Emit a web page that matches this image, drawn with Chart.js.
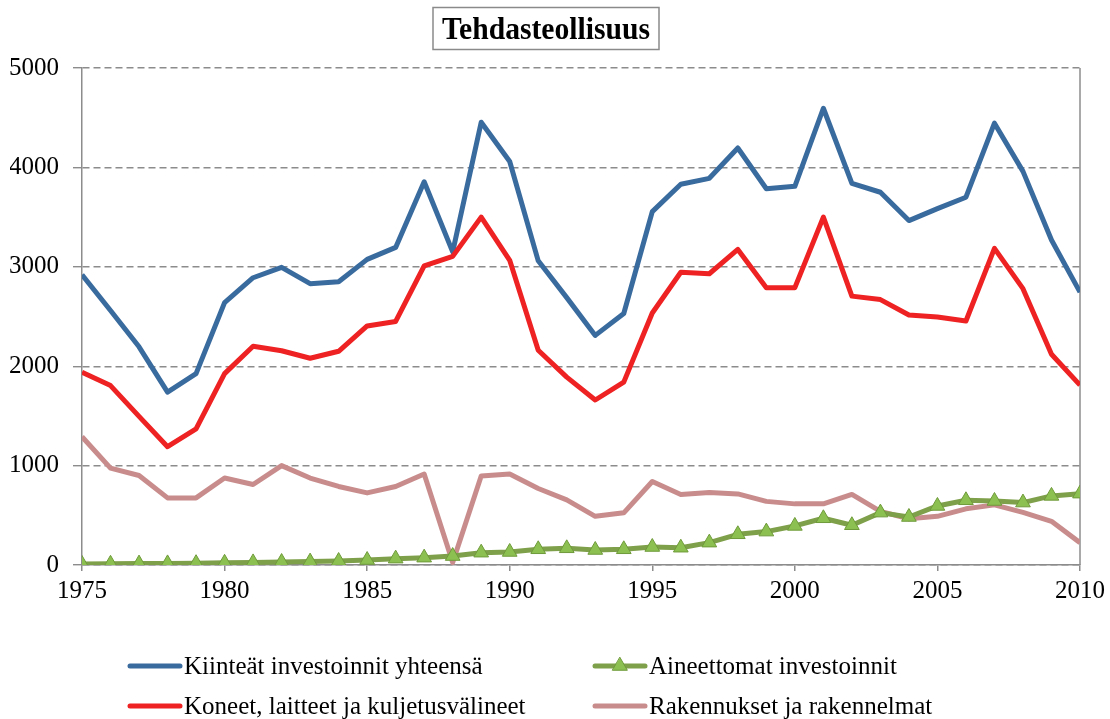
<!DOCTYPE html>
<html>
<head>
<meta charset="utf-8">
<script src="https://cdn.jsdelivr.net/npm/chart.js@4"></script>
<style>
  html, body { margin: 0; padding: 0; background: #ffffff; }
  #wrap { width: 1110px; height: 719px; }
</style>
</head>
<body>
<div id="wrap"><canvas id="c" width="1110" height="719"></canvas></div>
<script>
const chartTitle = "Tehdasteollisuus";
const years = [1975,1976,1977,1978,1979,1980,1981,1982,1983,1984,1985,1986,1987,1988,1989,1990,1991,1992,1993,1994,1995,1996,1997,1998,1999,2000,2001,2002,2003,2004,2005,2006,2007,2008,2009,2010];
const seriesLabels = ["Kiinteät investoinnit yhteensä", "Aineettomat investoinnit", "Koneet, laitteet ja kuljetusvälineet", "Rakennukset ja rakennelmat"];
const kiinteat = [2920,2560,2195,1740,1925,2640,2890,2995,2830,2850,3075,3195,3855,3150,4455,4060,3060,2690,2310,2530,3555,3830,3890,4195,3785,3810,4595,3840,3750,3465,3585,3700,4445,3960,3270,2745];
const aineettomat = [10,12,14,16,18,22,26,30,34,40,50,64,74,90,124,131,158,168,151,158,181,174,225,309,336,393,470,400,527,483,594,651,644,628,695,718];
const koneet = [1940,1805,1495,1190,1370,1925,2200,2155,2080,2150,2405,2450,3010,3105,3500,3065,2160,1890,1660,1840,2535,2945,2930,3175,2790,2790,3500,2705,2670,2515,2495,2455,3185,2780,2120,1810];
const rakennukset = [1290,975,900,675,675,875,810,1000,875,790,725,790,915,25,895,915,770,655,490,525,840,710,730,715,640,615,615,710,540,465,490,565,605,530,440,225];
const yTicks = [0,1000,2000,3000,4000,5000];
const xTickStep = 5;

const colors = ["#3A6B9E", "#7FA04A", "#EE2222", "#C98C8C"];
const markerFill = "#8CC152";
const markerBorder = "#6F9A3A";
const gridGray = "#8C8C8C";
const serif = "'Liberation Serif', 'Times New Roman', serif";

function pts(vals) { return years.map((y, i) => ({ x: y, y: vals[i] })); }

const seriesValues = [kiinteat, aineettomat, koneet, rakennukset];
const datasets = seriesValues.map((vals, i) => ({
  label: seriesLabels[i],
  data: pts(vals),
  borderColor: colors[i],
  backgroundColor: colors[i],
  borderWidth: 5,
  tension: 0,
  fill: false,
  pointRadius: i === 1 ? 8.5 : 0,
  pointHoverRadius: i === 1 ? 8.5 : 0,
  pointStyle: 'triangle',
  pointBackgroundColor: markerFill,
  pointBorderColor: markerBorder,
  pointBorderWidth: 1,
  borderJoinStyle: 'round',
  order: [3, 0, 2, 1][i]
}));

const titlePlugin = {
  id: 'boxTitle',
  afterDraw(chart) {
    const ctx = chart.ctx;
    ctx.save();
    ctx.font = "bold 31px " + serif;
    const w = ctx.measureText(chartTitle).width;
    const targetW = 208;
    const sx = targetW / w;
    const cx = 546, baseY = 39;
    ctx.strokeStyle = "#8A8A8A";
    ctx.lineWidth = 1.5;
    ctx.strokeRect(433, 7.5, 226, 42);
    ctx.translate(cx, baseY);
    ctx.scale(sx, 1);
    ctx.fillStyle = "#000";
    ctx.textAlign = "center";
    ctx.textBaseline = "alphabetic";
    ctx.fillText(chartTitle, 0, 0);
    ctx.restore();
  }
};

const framePlugin = {
  id: 'rightFrame',
  beforeDatasetsDraw(chart) {
    const a = chart.chartArea, ctx = chart.ctx;
    ctx.save();
    ctx.strokeStyle = gridGray;
    ctx.lineWidth = 1.5;
    ctx.beginPath();
    ctx.moveTo(a.right, a.top);
    ctx.lineTo(a.right, a.bottom);
    ctx.stroke();
    ctx.restore();
  }
};

const legendPlugin = {
  id: 'gridLegend',
  afterDraw(chart) {
    const ctx = chart.ctx;
    const cols = [128, 593];
    const rows = [666, 706];
    const lineLen = 54;
    const slots = [[0,0],[1,0],[0,1],[1,1]];
    ctx.save();
    ctx.font = "25px " + serif;
    ctx.textBaseline = "middle";
    chart.data.datasets.forEach((ds, i) => {
      const [c, r] = slots[i];
      const x = cols[c], y = rows[r];
      ctx.strokeStyle = ds.borderColor;
      ctx.lineWidth = 5;
      ctx.lineCap = "round";
      ctx.beginPath();
      ctx.moveTo(x + 2, y);
      ctx.lineTo(x + lineLen - 2, y);
      ctx.stroke();
      if (ds.pointRadius > 0) {
        const mx = x + lineLen / 2, r0 = 8.5;
        ctx.fillStyle = ds.pointBackgroundColor;
        ctx.strokeStyle = ds.pointBorderColor;
        ctx.lineWidth = 1;
        ctx.beginPath();
        for (let k = 0; k < 3; k++) {
          const ang = k * 2 * Math.PI / 3;
          const px = mx + Math.sin(ang) * r0, py = y - Math.cos(ang) * r0;
          if (k === 0) ctx.moveTo(px, py); else ctx.lineTo(px, py);
        }
        ctx.closePath();
        ctx.fill();
        ctx.stroke();
      }
      ctx.fillStyle = "#000";
      ctx.fillText(ds.label, x + lineLen + 2, y + 1);
    });
    ctx.restore();
  }
};

new Chart(document.getElementById('c'), {
  type: 'line',
  data: { datasets },
  options: {
    responsive: false,
    animation: false,
    devicePixelRatio: 1,
    layout: { padding: { left: 10, right: 30, top: 68, bottom: 114 } },
    plugins: { legend: { display: false }, title: { display: false }, tooltip: { enabled: false } },
    scales: {
      x: {
        type: 'linear',
        min: years[0],
        max: years[years.length - 1],
        afterFit(s) { s.height = 40; },
        afterBuildTicks(s) {
          const t = [];
          for (let v = years[0]; v <= years[years.length - 1]; v += xTickStep) t.push({ value: v });
          s.ticks = t;
        },
        ticks: {
          color: "#000",
          font: { family: serif, size: 25 },
          padding: 5,
          maxRotation: 0,
          callback: v => String(v)
        },
        grid: { drawOnChartArea: false, drawTicks: true, tickLength: 6, color: gridGray, lineWidth: 1.5 },
        border: { display: true, color: gridGray, width: 1.5 }
      },
      y: {
        min: 0,
        max: 5000,
        afterFit(s) { s.width = 72; },
        afterBuildTicks(s) { s.ticks = yTicks.map(v => ({ value: v })); },
        ticks: {
          color: "#000",
          font: { family: serif, size: 25 },
          padding: 14,
          callback: v => String(v)
        },
        grid: { color: gridGray, lineWidth: 1.4, tickLength: 9, drawTicks: true },
        border: { display: true, color: gridGray, width: 1.5, dash: [7, 4] }
      }
    }
  },
  plugins: [framePlugin, titlePlugin, legendPlugin]
});
</script>
</body>
</html>
